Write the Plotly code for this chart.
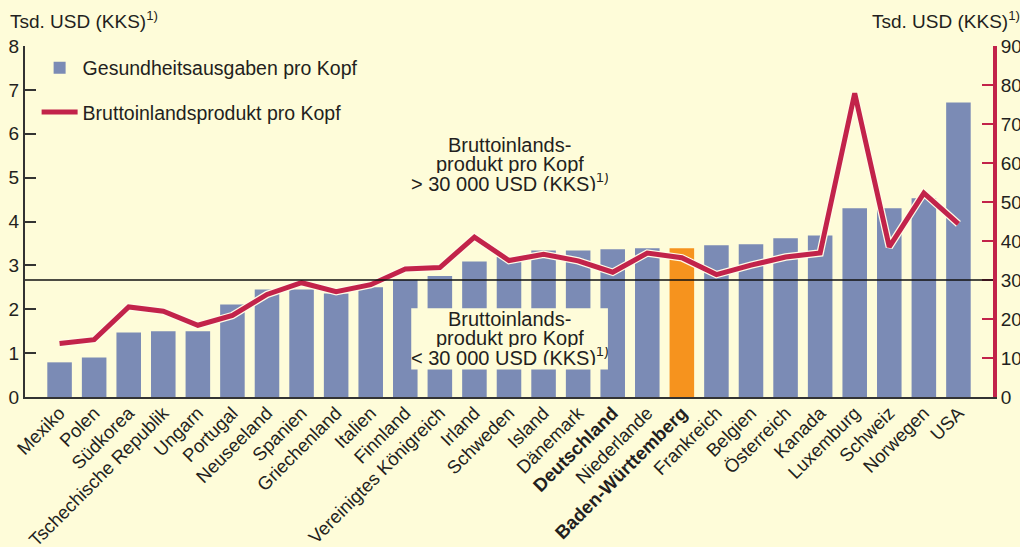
import plotly.graph_objects as go

countries = [
    "Mexiko", "Polen", "Südkorea", "Tschechische Republik", "Ungarn", "Portugal",
    "Neuseeland", "Spanien", "Griechenland", "Italien", "Finnland",
    "Vereinigtes Königreich", "Irland", "Schweden", "Island", "Dänemark",
    "Deutschland", "Niederlande", "Baden-Württemberg", "Frankreich", "Belgien",
    "Österreich", "Kanada", "Luxemburg", "Schweiz", "Norwegen", "USA",
]
# Gesundheitsausgaben pro Kopf, Tsd. USD (KKS) - left axis
health = [0.79, 0.90, 1.47, 1.50, 1.50, 2.11, 2.45, 2.45, 2.36, 2.50, 2.67,
          2.76, 3.09, 3.19, 3.34, 3.34, 3.37, 3.39, 3.39, 3.46, 3.48,
          3.62, 3.68, 4.30, 4.30, 4.53, 6.71]
# Bruttoinlandsprodukt pro Kopf, Tsd. USD (KKS) - right axis
gdp = [13.7, 14.7, 23.1, 22.0, 18.4, 20.9, 26.3, 29.3, 27.0, 28.8, 32.8,
       33.2, 41.0, 35.0, 36.6, 34.9, 32.0, 36.9, 35.7, 31.4, 33.8,
       35.9, 36.9, 77.9, 38.5, 52.3, 44.4]
left_ticks = [0, 1, 2, 3, 4, 5, 6, 7, 8]
right_ticks = [0, 10, 20, 30, 40, 50, 60, 70, 80, 90]
threshold = 30
highlight = "Baden-Württemberg"
bold_labels = ["Deutschland", "Baden-Württemberg"]
note_upper = ["Bruttoinlands-", "produkt pro Kopf", "> 30 000 USD (KKS)<sup>1)</sup>"]
note_lower = ["Bruttoinlands-", "produkt pro Kopf", "< 30 000 USD (KKS)<sup>1)</sup>"]
axis_title = "Tsd. USD (KKS)<sup>1)</sup>"

BG = "#fefcd9"
BLUE = "#7b8bb5"
ORANGE = "#f6931e"
RED = "#c2234a"
TXT = "#231f20"
FONT = "Liberation Sans, Arial, sans-serif"

bar_colors = [ORANGE if c == highlight else BLUE for c in countries]
ticktext = [f"<b>{c}</b>" if c in bold_labels else c for c in countries]

fig = go.Figure()
fig.add_bar(x=countries, y=health, marker=dict(color=bar_colors, line=dict(width=0)),
            width=0.71, name="Gesundheitsausgaben pro Kopf", legendgroup="a",
            hoverinfo="x+y")
fig.add_scatter(x=countries, y=gdp, yaxis="y2", mode="lines",
                line=dict(color="#fffbe6", width=7.5), showlegend=False,
                legendgroup="b", hoverinfo="skip")
fig.add_scatter(x=countries, y=gdp, yaxis="y2", mode="lines",
                line=dict(color=RED, width=5), name="Bruttoinlandsprodukt pro Kopf",
                legendgroup="b")

# threshold line at 30 000 USD
fig.add_shape(type="line", xref="paper", x0=0, x1=1, yref="y2", y0=threshold, y1=threshold,
              line=dict(color="#111111", width=1.3), layer="above")
# background panel behind lower note
fig.add_shape(type="rect", xref="paper", x0=0.3990, x1=0.6022, yref="y", y0=0.627, y1=2.02,
              fillcolor=BG, line=dict(width=0), layer="above")

ann_font = dict(family=FONT, size=20, color=TXT)
anns = []
anns.append(dict(text=axis_title, xref="paper", yref="paper",
                 x=-0.0175, y=1, xanchor="left", yanchor="bottom", yshift=12,
                 showarrow=False, font=dict(family=FONT, size=19, color=TXT)))
anns.append(dict(text=axis_title, xref="paper", yref="paper",
                 x=0.873, y=1, xanchor="left", yanchor="bottom", yshift=12,
                 showarrow=False, font=dict(family=FONT, size=19, color=TXT)))
for txt, yv in zip(note_upper, [5.736, 5.315, 4.893]):
    anns.append(dict(text=txt, xref="paper", yref="y", x=0.5008, y=yv, height=18,
                     xanchor="center", yanchor="middle", showarrow=False, font=ann_font))
for txt, yv in zip(note_lower, [1.769, 1.347, 0.926]):
    anns.append(dict(text=txt, xref="paper", yref="y", x=0.5008, y=yv, height=18,
                     xanchor="center", yanchor="middle", showarrow=False, font=ann_font))

fig.update_layout(
    width=1020, height=547,
    margin=dict(l=25, r=27, t=46, b=150),
    paper_bgcolor=BG, plot_bgcolor=BG,
    font=dict(family=FONT, size=19, color=TXT),
    showlegend=True,
    legend=dict(x=0.012, y=0.993, xanchor="left", yanchor="top", itemwidth=36,
                bgcolor="rgba(0,0,0,0)", font=dict(family=FONT, size=19.5, color=TXT),
                traceorder="grouped", tracegroupgap=16),
    xaxis=dict(type="category", range=[-1, 27], tickangle=-45,
               tickvals=countries, ticktext=ticktext, ticklabelstandoff=-4,
               showline=True, linecolor="#333333", linewidth=2,
               ticks="", showgrid=False, zeroline=False, automargin=False,
               tickfont=dict(family=FONT, size=18.5, color=TXT)),
    yaxis=dict(range=[0, 8], tickvals=left_ticks, ticks="inside", ticklen=11,
               tickwidth=2, tickcolor="#333333", showline=True, linecolor="#333333",
               linewidth=2, showgrid=False, zeroline=False, automargin=False,
               tickfont=dict(family=FONT, size=19, color=TXT)),
    yaxis2=dict(range=[0, 90], tickvals=right_ticks, overlaying="y", side="right",
                ticks="inside", ticklen=11, tickwidth=2, tickcolor=RED,
                showline=True, linecolor=RED, linewidth=4, showgrid=False,
                zeroline=False, automargin=False,
                tickfont=dict(family=FONT, size=19, color=TXT)),
    annotations=anns,
)

fig.write_html("out.html", include_plotlyjs=True, config={"displayModeBar": False},
               post_script="document.body.style.margin='0';document.body.style.overflow='hidden';")
